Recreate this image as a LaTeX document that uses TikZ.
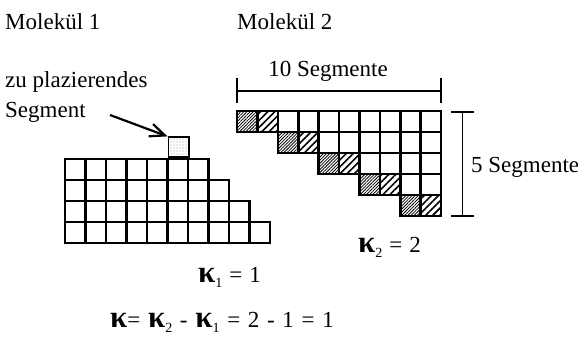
\documentclass[tikz,border=0pt]{standalone}
\usepackage{fontspec}
\setmainfont{Liberation Serif}
\usetikzlibrary{patterns.meta,arrows.meta}
\tikzset{
  txt/.style={inner sep=0pt, font=\fontsize{23}{27}\selectfont},
  cell/.style={draw=black, line width=2.6pt, fill=white},
  dense/.style={cell, pattern={Lines[angle=45,distance=2.2pt,line width=0.8pt]}},
  sparse/.style={cell, pattern={Lines[angle=45,distance=5pt,line width=1.6pt]}},
  dotted cell/.style={draw=black, line width=1.6pt, minimum width=20.5pt, minimum height=20pt, inner sep=0pt,
    pattern={Dots[radius=0.45pt,distance=3pt]}},
  dim/.style={line width=1.2pt}
}
\newcommand{\kp}{{\fontsize{31}{31}\selectfont\textbf{κ}}}
\newcommand{\sbs}[1]{\raisebox{-5pt}{\fontsize{14}{15}\selectfont #1}}
\begin{document}
\begin{tikzpicture}[x=1pt,y=-1pt]
\useasboundingbox (0,0) rectangle (578,337);
% labels
\node[txt, anchor=base west] (m1) at (5,30) {Molekül 1};
\node[txt, anchor=base west] (m2) at (237,30) {Molekül 2};
\node[txt, anchor=base west] (zu) at (5,87) {zu plazierendes};
\node[txt, anchor=base west] (sg) at (5,117) {Segment};
% molecule 1
\foreach \r in {0,...,3}{
  \pgfmathtruncatemacro{\n}{6+\r}
  \foreach \c in {0,...,\n}{
    \draw[cell] ({65+20.5*\c},{159+21*\r}) rectangle ++(20.5,21);
  }
}
\node[dotted cell, anchor=south west] (seg) at (167.5,158) {};
\coordinate (as) at (110,115);
\draw[line width=2.2pt, -{Straight Barb[length=15pt,width=13pt,line width=2.2pt]}] (as) -- (seg.north west);
% molecule 2
\foreach \r in {0,...,4}{
  \pgfmathtruncatemacro{\a}{2*\r}
  \foreach \c in {\a,...,9}{
    \pgfmathtruncatemacro{\d}{\c-\a}
    \ifnum\d=0
      \draw[dense] ({237+20.4*\c},{111+21*\r}) rectangle ++(20.4,21);
    \else\ifnum\d=1
      \draw[sparse] ({237+20.4*\c},{111+21*\r}) rectangle ++(20.4,21);
    \else
      \draw[cell] ({237+20.4*\c},{111+21*\r}) rectangle ++(20.4,21);
    \fi\fi
  }
}
% dimension lines
\coordinate (h1) at (237,91);
\coordinate (h2) at (441,91);
\draw[dim] (h1) -- (h2);
\draw[dim] (237,78) -- (237,103);
\draw[dim] (441,78) -- (441,103);
\node[txt, anchor=base] (ten) at (328,77) {10 Segmente};
\coordinate (v1) at (462.5,112);
\coordinate (v2) at (462.5,216);
\draw[dim] (v1) -- (v2);
\draw[dim] (451,112) -- (474,112);
\draw[dim] (451,216) -- (474,216);
\node[txt, anchor=base west] (five) at (471,172) {5 Segmente};
% kappas
\node[txt, anchor=base west] (k1) at (198,282) {\spaceskip=7pt\kp\sbs{1} = 1};
\node[txt, anchor=base west] (k2) at (358,252) {\spaceskip=7pt\kp\sbs{2} = 2};
\node[txt, anchor=base west] (kk) at (110,327) {\spaceskip=7.7pt\kp= \kp\sbs{2} - \kp\sbs{1} = 2 - 1 = 1};
\end{tikzpicture}
\end{document}
